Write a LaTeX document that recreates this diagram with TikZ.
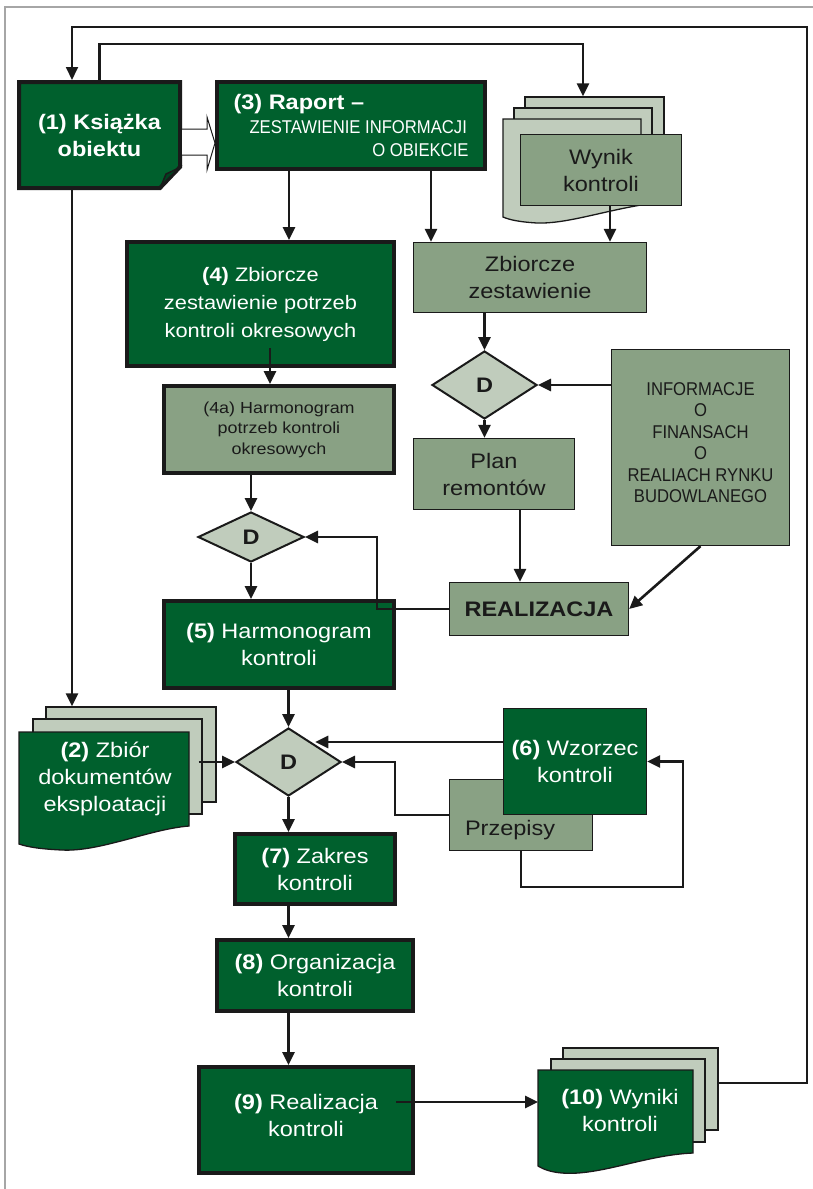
\documentclass[tikz,border=0pt]{standalone}
\usepackage{fontspec}
\setmainfont[FakeStretch=1.12]{Liberation Sans}
\newfontfamily\wersaliki[FakeStretch=0.9]{Liberation Sans}
\usetikzlibrary{shapes.geometric,arrows.meta,calc}

\definecolor{ciemnaziel}{RGB}{0,96,45}
\definecolor{szaroziel}{RGB}{137,161,132}
\definecolor{jasnoziel}{RGB}{192,204,188}
\definecolor{ramka}{RGB}{26,26,26}

\newcommand\glowny{\fontsize{21}{27}\selectfont}
\newcommand\sredni{\fontsize{19.5}{28}\selectfont}
\newcommand\drobny{\fontsize{16}{20.5}\selectfont}
\newcommand\wers{\wersaliki\fontsize{18.5}{21.5}\selectfont}

\begin{document}
\begin{tikzpicture}[x=1pt,y=-1pt,
  gruby/.style={rectangle, draw=ramka, line width=4pt, fill=ciemnaziel, text=white, align=center, inner sep=0pt, font=\glowny},
  cienki/.style={rectangle, draw=ramka, line width=1.3pt, fill=szaroziel, text=ramka, align=center, inner sep=0pt, font=\glowny},
  decyzja/.style={diamond, draw=ramka, line width=2pt, fill=jasnoziel, inner sep=0pt, text=ramka, font=\glowny\bfseries},
  kartka/.style={rectangle, draw=ramka, line width=1.3pt, fill=jasnoziel},
  napis/.style={inner sep=0pt, outer sep=0pt, align=center, font=\glowny},
  strz/.style={color=ramka, line width=2.6pt, -{Triangle[length=13pt,width=12pt]}}]
\useasboundingbox (0,0) rectangle (813,1189);
\draw[gray!70, line width=1.3pt] (5,1189) -- (5,7) -- (813,7);

% (1) ksiazka obiektu
\draw[ramka, line width=4pt, fill=ciemnaziel] (19,82) -- (180,82) -- (180,167) -- (160,188) -- (19,188) -- cycle;
\draw[ramka, line width=1.5pt, fill=ciemnaziel!70!black] (161,186) -- (166,174) -- (179,168) -- cycle;
\node[napis, text=white, font=\glowny\bfseries, minimum width=165, minimum height=110] (ks) at (99.5,135) {(1) Książka\\obiektu};

% (3) raport
\node[gruby, align=left, minimum width=268, minimum height=87] (raport) at (351,125.5)
  {\textbf{(3) Raport --}\\[-3pt]
   \hspace*{16pt}{\wers ZESTAWIENIE INFORMACJI}\\[-4pt]
   \hspace*{16pt}\makebox[219pt][r]{\wers O OBIEKCIE}};

% wynik kontroli
\node[kartka, minimum width=139, minimum height=83] (w3c) at (594.5,138.5) {};
\node[kartka, minimum width=138, minimum height=82] (w3b) at (583,149) {};
\draw[ramka, line width=1.3pt, fill=jasnoziel] (503,119) -- (641,119) -- (641,205)
  .. controls (600,212) and (565,224) .. (537,223) .. controls (520,222) and (510,220) .. (503,217) -- cycle;
\node[cienki, minimum width=161, minimum height=71] (wynik) at (601,170) {Wynik\\kontroli};

% prawa kolumna
\node[cienki, minimum width=233, minimum height=70] (zz) at (530,277.5) {Zbiorcze\\zestawienie};
\node[decyzja, minimum width=105, minimum height=68] (d1) at (484.5,385) {D};
\node[cienki, font=\wers, minimum width=178, minimum height=196] (info) at (700.5,447.5)
  {INFORMACJE\\O\\FINANSACH\\O\\REALIACH RYNKU\\BUDOWLANEGO\\[-12pt]\mbox{}};
\node[cienki, minimum width=161, minimum height=71] (plan) at (494,474) {Plan\\remontów};
\node[cienki, font=\glowny\bfseries, minimum width=179, minimum height=53] (realiz) at (539,609) {REALIZACJA};

% lewa kolumna
\node[gruby, font=\sredni, minimum width=267, minimum height=124] (z4) at (260.5,304) {\textbf{(4)} Zbiorcze\\zestawienie potrzeb\\kontroli okresowych};
\node[gruby, fill=szaroziel, text=ramka, font=\drobny, minimum width=230, minimum height=87] (z4a) at (279,429.5) {(4a) Harmonogram\\potrzeb kontroli\\okresowych};
\node[decyzja, minimum width=106, minimum height=50] (d2) at (251,537) {D};
\node[gruby, minimum width=230, minimum height=87] (h5) at (279,644.5) {\textbf{(5)} Harmonogram\\kontroli};

% (2) zbior dokumentow
\node[kartka, minimum width=170, minimum height=95] (zb2c) at (131,754.5) {};
\node[kartka, minimum width=169, minimum height=95] (zb2b) at (117.5,766.5) {};
\draw[ramka, line width=1.3pt, fill=ciemnaziel] (19,732) -- (189,732) -- (189,826)
  .. controls (150,829) and (100,852) .. (62,850) .. controls (40,849) and (28,847) .. (19,844) -- cycle;
\node[napis, text=white, minimum width=170, minimum height=112] (zb2a) at (105,779) {\textbf{(2)} Zbiór\\dokumentów\\eksploatacji};

\node[decyzja, minimum width=105, minimum height=68] (d3) at (288.5,762) {D};

% (6) wzorzec i przepisy
\node[cienki, minimum width=143, minimum height=71] (przep) at (521,815) {};
\node[napis, text=ramka, anchor=west] (przepT) at (465,830) {Przepisy};
\node[cienki, fill=ciemnaziel, text=white, minimum width=143, minimum height=106] (wz6) at (575,761.5) {\textbf{(6)} Wzorzec\\kontroli};

\node[gruby, minimum width=160, minimum height=70] (zak7) at (315,869) {\textbf{(7)} Zakres\\kontroli};
\node[gruby, minimum width=196, minimum height=71] (org8) at (315,975.5) {\textbf{(8)} Organizacja\\kontroli};
\node[gruby, minimum width=214, minimum height=106] (real9) at (306,1120) {\textbf{(9)} Realizacja\\kontroli\\[-18pt]\mbox{}};

% (10) wyniki kontroli
\node[kartka, minimum width=155, minimum height=82] (w10c) at (640.5,1089) {};
\node[kartka, minimum width=154, minimum height=83] (w10b) at (628,1100.5) {};
\draw[ramka, line width=1.3pt, fill=ciemnaziel] (538,1070) -- (693,1070) -- (693,1153)
  .. controls (645,1155) and (600,1176) .. (562,1173) .. controls (550,1172) and (543,1169) .. (538,1166) -- cycle;
\node[napis, text=white, minimum width=164, minimum height=80] (w10a) at (620,1110) {\textbf{(10)} Wyniki\\kontroli};

% polaczenia
\draw[ramka, line width=1pt, fill=white] (ks.east |- 0,129) -- (207,129) -- (207,117) -- (raport.west |- 0,143)
  -- (207,170) -- (207,155) -- (ks.east |- 0,155);
\draw[strz, line width=1.8pt] (w10c.east |- 0,1083) -| (807,27) -| ([xshift=-27.5]ks.north);
\draw[strz] (ks.north) |- ([xshift=-11.5]w3c.north |- 0,44) -- ([xshift=-11.5]w3c.north);
\draw[strz] ([xshift=-62]raport.south) -- ([xshift=-62]raport.south |- z4.north);
\draw[strz] ([xshift=80]raport.south) -- ([xshift=80]raport.south |- zz.north);
\draw[strz] ([xshift=9]wynik.south) -- ([xshift=9]wynik.south |- zz.north);
\draw[strz] (zz.south -| d1.north) -- (d1.north);
\draw[strz] (info.west |- d1.east) -- (d1.east);
\path[strz] (d1.south) edge (d1.south |- plan.north);
\draw[strz] ([xshift=26]plan.south) -- ([xshift=26]plan.south |- realiz.north);
\draw[strz] (info.south) -- (realiz.east);
\draw[strz] (realiz.west) -- ++(-72,0) |- (d2.east);
\draw[strz] ([xshift=9.5,yshift=20]z4.south) -- ([xshift=9.5]z4.south |- z4a.north);
\draw[strz] (d2.north |- z4a.south) -- (d2.north);
\path[strz] (d2.south) edge (d2.south |- h5.north);
\draw[strz] (d3.north |- h5.south) -- (d3.north);
\draw[strz] ([xshift=-27.5]ks.south) -- ([xshift=-27.5]ks.south |- zb2c.north);
\draw[strz] ([xshift=-4]zb2b.east |- d3.west) -- (d3.west);
\draw[strz] ([yshift=19.5]wz6.west) -- ([yshift=19.5]wz6.west -| d3.north east);
\draw[strz] (przep.west) -- ++(-54,0) |- (d3.east);
\draw[strz] (przep.south) |- (683,887) |- (wz6.east);
\path[strz] (d3.south) edge (d3.south |- zak7.north);
\draw[strz] (zak7.south -| d3.south) -- (org8.north -| d3.south);
\draw[strz] (org8.south -| d3.south) -- (real9.north -| d3.south);
\coordinate (r9wy) at ([xshift=-19,yshift=18]real9.east);
\draw[strz] (r9wy) -- (r9wy -| w10a.west);
\end{tikzpicture}
\end{document}
